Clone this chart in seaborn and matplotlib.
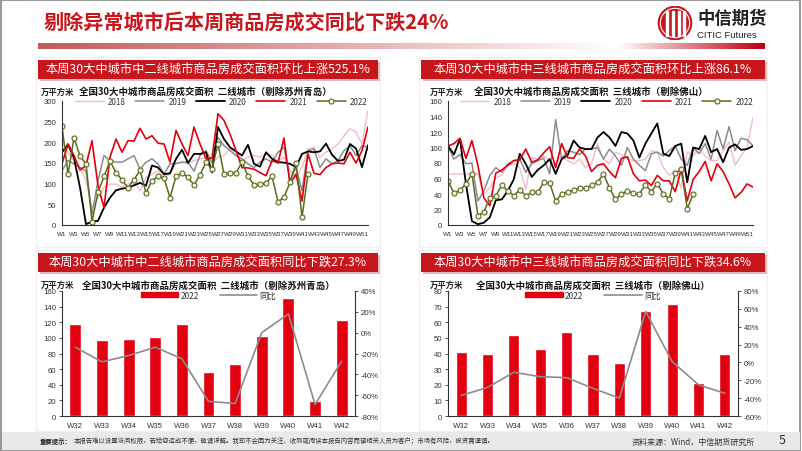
import numpy as np
import pandas as pd
import matplotlib
matplotlib.use("Agg")
import matplotlib.pyplot as plt
import seaborn as sns
from matplotlib.colors import LinearSegmentedColormap
from matplotlib.patches import Rectangle, Circle
from matplotlib.lines import Line2D
from matplotlib.ticker import FuncFormatter, MultipleLocator, FixedLocator

sns.set_theme(style="white")
CJK = ["Noto Sans CJK SC", "DejaVu Sans"]
NARROW = ["Liberation Sans Narrow", "Liberation Sans", "DejaVu Sans"]
plt.rcParams["font.family"] = CJK
plt.rcParams["axes.unicode_minus"] = False

# ---------------- data ----------------
weeks = list(range(1, 53))
week_labels = [f"W{w}" if w % 2 == 1 else "" for w in weeks]

# second-tier cities (excl. Suzhou, Qingdao), 万平方米
t2_2018 = [180, 176, 156, 139, 107, 42, 66, 91, 99, 99, 91, 99, 107, 83, 115, 123, 131, 115, 123, 148,
           152, 148, 156, 160, 164, 148, 164, 168, 184, 168, 156, 164, 168, 164, 172, 168, 156, 164, 131, 115,
           139, 184, 188, 164, 176, 184, 196, 216, 233, 225, 196, 277]
t2_2019 = [131, 156, 148, 139, 131, 26, 107, 168, 156, 152, 152, 160, 168, 135, 152, 160, 148, 123, 148, 149,
           152, 152, 130, 168, 180, 152, 212, 192, 180, 168, 160, 148, 139, 152, 160, 152, 176, 188, 107, 139,
           83, 180, 184, 139, 160, 148, 156, 180, 192, 168, 192, 188]
t2_2020 = [176, 195, 162, 91, 2, 8, 10, 42, 66, 84, 88, 90, 96, 102, 95, 144, 139, 123, 125, 160,
           182, 150, 172, 172, 176, 127, 237, 208, 188, 178, 168, 194, 148, 141, 176, 160, 152, 151, 148, 140,
           172, 178, 176, 178, 197, 170, 155, 158, 196, 185, 140, 193]
t2_2021 = [148, 196, 168, 133, 144, 204, 95, 42, 164, 208, 176, 204, 203, 234, 208, 216, 198, 196, 152, 229,
           196, 168, 237, 196, 160, 162, 269, 253, 220, 180, 139, 138, 135, 127, 119, 156, 150, 210, 99, 123,
           58, 172, 125, 122, 139, 148, 150, 148, 176, 150, 180, 237]
t2_2022 = [239, 123, 211, 167, 148, 8, 79, 118, 154, 127, 109, 90, 110, 132, 78, 107, 118, 114, 66, 118,
           126, 115, 97, 121, 152, 135, 196, 123, 126, 126, 152, 118, 97, 99, 101, 118, 56, 67, 103, 151,
           19, 123]

# third-tier cities (excl. Foshan), 万平方米
t3_2018 = [66, 66, 66, 66, 66, 66, 40, 48, 61, 64, 77, 79, 74, 46, 87, 85, 89, 83, 79, 89,
           83, 79, 85, 74, 79, 105, 85, 79, 94, 91, 85, 83, 83, 85, 96, 94, 74, 64, 70, 48,
           94, 89, 98, 89, 83, 83, 96, 107, 77, 89, 100, 139]
t3_2019 = [101, 85, 91, 79, 80, 31, 44, 64, 74, 68, 79, 83, 85, 68, 79, 83, 86, 66, 136, 85,
           96, 94, 91, 98, 98, 100, 85, 98, 89, 77, 100, 85, 77, 70, 92, 94, 89, 96, 102, 85,
           77, 100, 92, 105, 85, 122, 98, 127, 96, 112, 110, 102]
t3_2020 = [102, 91, 111, 53, 5, 1, 3, 10, 32, 33, 44, 59, 92, 79, 62, 71, 77, 85, 66, 85,
           90, 109, 100, 98, 98, 113, 120, 113, 102, 120, 118, 109, 87, 105, 118, 131, 92, 89, 102, 105,
           55, 100, 98, 115, 94, 98, 81, 100, 104, 97, 98, 102]
t3_2021 = [102, 105, 112, 86, 109, 77, 35, 25, 67, 71, 77, 83, 84, 98, 81, 84, 93, 101, 74, 105,
           87, 86, 98, 89, 69, 77, 79, 69, 61, 86, 88, 66, 57, 58, 51, 64, 57, 57, 43, 72,
           31, 59, 69, 82, 57, 79, 69, 53, 35, 42, 53, 49]
t3_2022 = [57, 41, 45, 53, 66, 12, 17, 35, 38, 51, 44, 38, 45, 38, 42, 42, 55, 54, 31, 40,
           43, 45, 48, 48, 51, 55, 66, 48, 33, 40, 44, 41, 40, 52, 43, 53.5, 40, 34, 67, 72,
           21, 39.5]

bar_weeks = ["W32", "W33", "W34", "W35", "W36", "W37", "W38", "W39", "W40", "W41", "W42"]
t2_bar = [118, 97, 99, 101, 118, 56, 67, 103, 151, 19, 123]
t2_yoy = [-14, -28, -22, -14, -25, -66, -68, 0, 18, -69, -27.3]
t3_bar = [41, 40, 52, 43, 53.5, 40, 34, 67, 72, 21, 39.5]
t3_yoy = [-37, -28, -11, -16, -17, -29, -40, 57, 1, -25, -34.6]

years = ["2018", "2019", "2020", "2021", "2022"]

# ---------------- styles ----------------
RED = "#C8161D"
BAR_RED = "#E3000F"
styles = {
    "2018": dict(color="#F4BCC8", lw=1.0),
    "2019": dict(color="#8C8C8C", lw=1.1),
    "2020": dict(color="#000000", lw=1.3),
    "2021": dict(color="#E3000F", lw=1.2),
    "2022": dict(color="#5B6B1E", lw=1.1),
}

W, H = 802, 452
fig = plt.figure(figsize=(W / 100, H / 100), dpi=100)
fig.patch.set_facecolor("white")


def fx(px):
    return px / W


def fy(py):
    return 1 - py / H


def box(x0, y0, x1, y1):
    return [fx(x0), fy(y1), fx(x1) - fx(x0), fy(y0) - fy(y1)]


# slide border
fig.add_artist(Rectangle((0.001, 0.002), 0.997, 0.995, transform=fig.transFigure,
                         fill=False, edgecolor="#9A9A9A", lw=1.5))

# title
fig.text(fx(44), fy(23), "剔除异常城市后本周商品房成交同比下跌24%", color=RED,
         fontsize=14.5, fontweight="bold", va="center", ha="left", family=CJK)

# gradient bar
gax = fig.add_axes(box(38, 44, 765, 50))
cmap = LinearSegmentedColormap.from_list("g", [(0, "#C45A5C"), (0.45, "#E7B3B4"),
                                               (0.80, "#FFFFFF"), (1.0, "#BF0010")])
gax.imshow(np.linspace(0, 1, 400).reshape(1, -1), aspect="auto", cmap=cmap)
gax.axis("off")

# logo
lax = fig.add_axes(box(655, 7, 695, 41))
lax.set_xlim(-1.2, 1.2)
lax.set_ylim(-1.02, 1.02)
lax.set_aspect("equal")
lax.add_patch(Circle((0, 0), 1.0, color=RED))
for xx in [-0.55, -0.2, 0.15, 0.5]:
    lax.add_patch(Rectangle((xx, -0.75), 0.12, 1.5, color="white"))
lax.add_patch(Circle((0, 0), 0.88, fill=False, edgecolor="white", lw=0.8))
lax.axis("off")
fig.text(fx(697), fy(19), "中信期货", fontsize=12.5, fontweight="bold", color="#222222",
         va="center", ha="left", family=CJK)
fig.text(fx(697), fy(35), "CITIC Futures", fontsize=6.8, color="#222222",
         va="center", ha="left", family=NARROW)

# banners
banners = [
    (38, 61, 378, 80, "本周30大中城市中二线城市商品房成交面积环比上涨525.1%"),
    (421, 61, 765, 80, "本周30大中城市中三线城市商品房成交面积环比上涨86.1%"),
    (38, 254, 378, 273, "本周30大中城市中二线城市商品房成交面积同比下跌27.3%"),
    (421, 254, 765, 273, "本周30大中城市中三线城市商品房成交面积同比下跌34.6%"),
]
for x0, y0, x1, y1, t in banners:
    fig.add_artist(Rectangle((fx(x0) + 0.002, fy(y1) - 0.004), fx(x1) - fx(x0), fy(y0) - fy(y1),
                             transform=fig.transFigure, color="#E2B9B9", lw=0))
    fig.add_artist(Rectangle((fx(x0), fy(y1)), fx(x1) - fx(x0), fy(y0) - fy(y1),
                             transform=fig.transFigure, color=RED, lw=0))
    fig.text((fx(x0) + fx(x1)) / 2, (fy(y0) + fy(y1)) / 2, t, color="white", fontsize=8.8,
             ha="center", va="center", family=CJK)

# panel frames (faint)
for x0, y0, x1, y1 in [(36, 58, 380, 248), (419, 58, 767, 248), (36, 251, 380, 432), (419, 251, 767, 432)]:
    fig.add_artist(Rectangle((fx(x0), fy(y1)), fx(x1) - fx(x0), fy(y0) - fy(y1),
                             transform=fig.transFigure, fill=False, edgecolor="#F0F0F0", lw=0.8))

TICK_FS = 5.6


def style_axis(ax):
    for s in ["top", "right"]:
        ax.spines[s].set_visible(False)
    for s in ["left", "bottom"]:
        ax.spines[s].set_color("#333333")
        ax.spines[s].set_linewidth(0.8)
    ax.tick_params(axis="both", which="both", direction="out", length=2.5, width=0.6,
                   colors="#333333", labelsize=TICK_FS, pad=1.5)
    for lab in ax.get_xticklabels() + ax.get_yticklabels():
        lab.set_family(NARROW)


def line_panel(rect, data, ymax, ystep, title, unit_xy):
    ax = fig.add_axes(rect)
    for y in years:
        vals = data[y]
        st = styles[y]
        if y == "2022":
            sns.lineplot(x=weeks[:len(vals)], y=vals, ax=ax, color=st["color"], lw=st["lw"],
                         marker="o", markersize=3.6, markerfacecolor="#F3F3E6",
                         markeredgecolor=st["color"], markeredgewidth=0.8, label=y)
        else:
            sns.lineplot(x=weeks[:len(vals)], y=vals, ax=ax, color=st["color"], lw=st["lw"], label=y)
    ax.set_xlim(1, 52)
    ax.set_ylim(0, ymax)
    ax.yaxis.set_major_locator(MultipleLocator(ystep))
    ax.xaxis.set_major_locator(FixedLocator(weeks))
    ax.set_xticklabels(week_labels)
    ax.set_xlabel("")
    ax.set_ylabel("")
    style_axis(ax)
    ax.tick_params(axis="x", labelsize=4.5, pad=2)
    leg = ax.legend(ncol=5, loc="upper center", bbox_to_anchor=(0.52, 1.06), frameon=False,
                    fontsize=5.8, handlelength=3.6, columnspacing=1.2, handletextpad=0.5,
                    borderaxespad=0)
    for t in leg.get_texts():
        t.set_color("#333333")
    fig.text(unit_xy[0], unit_xy[1], "万平方米", fontsize=6, fontweight="bold",
             color="#222222", ha="left", va="center", family=CJK)
    fig.text(rect[0] + rect[2] * 0.47, fy(92), title, fontsize=6.8, fontweight="bold",
             color="#111111", ha="center", va="center", family=CJK)
    return ax


line_panel(box(62, 102, 368, 226),
           {"2018": t2_2018, "2019": t2_2019, "2020": t2_2020, "2021": t2_2021, "2022": t2_2022},
           300, 50, "全国30大中城市商品房成交面积  二线城市（剔除苏州青岛）", (fx(41), fy(92)))
line_panel(box(448, 102, 753, 226),
           {"2018": t3_2018, "2019": t3_2019, "2020": t3_2020, "2021": t3_2021, "2022": t3_2022},
           160, 20, "全国30大中城市商品房成交面积  三线城市（剔除佛山）", (fx(430), fy(92)))


def bar_panel(rect, bars, yoy, ymax, ystep, rlim, rstep, title, unit_xy, width):
    ax = fig.add_axes(rect)
    df = pd.DataFrame({"week": bar_weeks, "value": bars})
    sns.barplot(data=df, x="week", y="value", ax=ax, color=BAR_RED, saturation=1,
                width=width, label="2022")
    ax.set_xlim(-0.5, len(bar_weeks) - 0.5)
    ax.set_ylim(0, ymax)
    ax.yaxis.set_major_locator(MultipleLocator(ystep))
    ax.set_xlabel("")
    ax.set_ylabel("")
    style_axis(ax)
    ax.tick_params(axis="x", which="major", length=0, pad=4)
    ax.set_xticks(np.arange(-0.5, len(bar_weeks), 1.0), minor=True)
    ax.tick_params(axis="x", which="minor", length=2.5, width=0.6, colors="#333333")

    ax2 = ax.twinx()
    sns.lineplot(x=np.arange(len(yoy)), y=yoy, ax=ax2, color="#8C8C8C", lw=1.2, label="同比")
    ax2.set_ylim(*rlim)
    ax2.yaxis.set_major_locator(MultipleLocator(rstep))
    ax2.yaxis.set_major_formatter(FuncFormatter(lambda v, _: f"{int(round(v))}%"))
    ax2.set_ylabel("")
    for s in ["top", "left", "bottom"]:
        ax2.spines[s].set_visible(False)
    ax2.spines["right"].set_color("#333333")
    ax2.spines["right"].set_linewidth(0.8)
    ax2.tick_params(axis="y", direction="out", length=2.5, width=0.6, colors="#333333",
                    labelsize=TICK_FS, pad=1.5)
    for lab in ax2.get_yticklabels():
        lab.set_family(NARROW)
    if ax2.get_legend():
        ax2.get_legend().remove()
    if ax.get_legend():
        ax.get_legend().remove()
    handles = [Rectangle((0, 0), 1, 1, color=BAR_RED),
               Line2D([0], [0], color="#8C8C8C", lw=1.2)]
    leg = ax2.legend(handles, ["2022", "同比"], ncol=2, loc="upper center",
                     bbox_to_anchor=(0.5, 1.03), frameon=False, fontsize=6,
                     handlelength=4.5, handleheight=0.6, columnspacing=2.5, handletextpad=0.3,
                     borderaxespad=0)
    for t in leg.get_texts():
        t.set_color("#333333")
    fig.text(unit_xy[0], unit_xy[1], "万平方米", fontsize=6, fontweight="bold",
             color="#222222", ha="left", va="center", family=CJK)
    fig.text(rect[0] + rect[2] * 0.5, fy(286), title, fontsize=6.8, fontweight="bold",
             color="#111111", ha="center", va="center", family=CJK)


bar_panel(box(62, 292, 355, 417), t2_bar, t2_yoy, 160, 20, (-80, 40), 20,
          "全国30大中城市商品房成交面积  二线城市（剔除苏州青岛）", (fx(41), fy(285)), 0.45)
bar_panel(box(448, 292, 738, 417), t3_bar, t3_yoy, 80, 10, (-60, 80), 20,
          "全国30大中城市商品房成交面积  三线城市（剔除佛山）", (fx(430), fy(285)), 0.42)

# footer
fig.add_artist(Rectangle((fx(2), fy(451)), fx(800) - fx(2), fy(433) - fy(451),
                         transform=fig.transFigure, color="#E9E9E9", lw=0))
fig.text(fx(40), fy(442), "重要提示：", fontsize=4.6, fontweight="bold", color="#222222",
         ha="left", va="center", family=CJK)
fig.text(fx(74), fy(442),
         "本报告难以设置访问权限，若给您造成不便，敬请谅解。我司不会因为关注、收到或阅读本报告内容而视相关人员为客户；市场有风险，投资需谨慎。",
         fontsize=4.6, color="#333333", ha="left", va="center", family=CJK)
fig.text(fx(755), fy(442), "资料来源：Wind，中信期货研究所", fontsize=5.8, color="#333333",
         ha="right", va="center", family=CJK)
fig.text(fx(782), fy(441), "5", fontsize=9, color="#333333", ha="center", va="center", family=CJK)

fig.savefig("out.png", dpi=100)
